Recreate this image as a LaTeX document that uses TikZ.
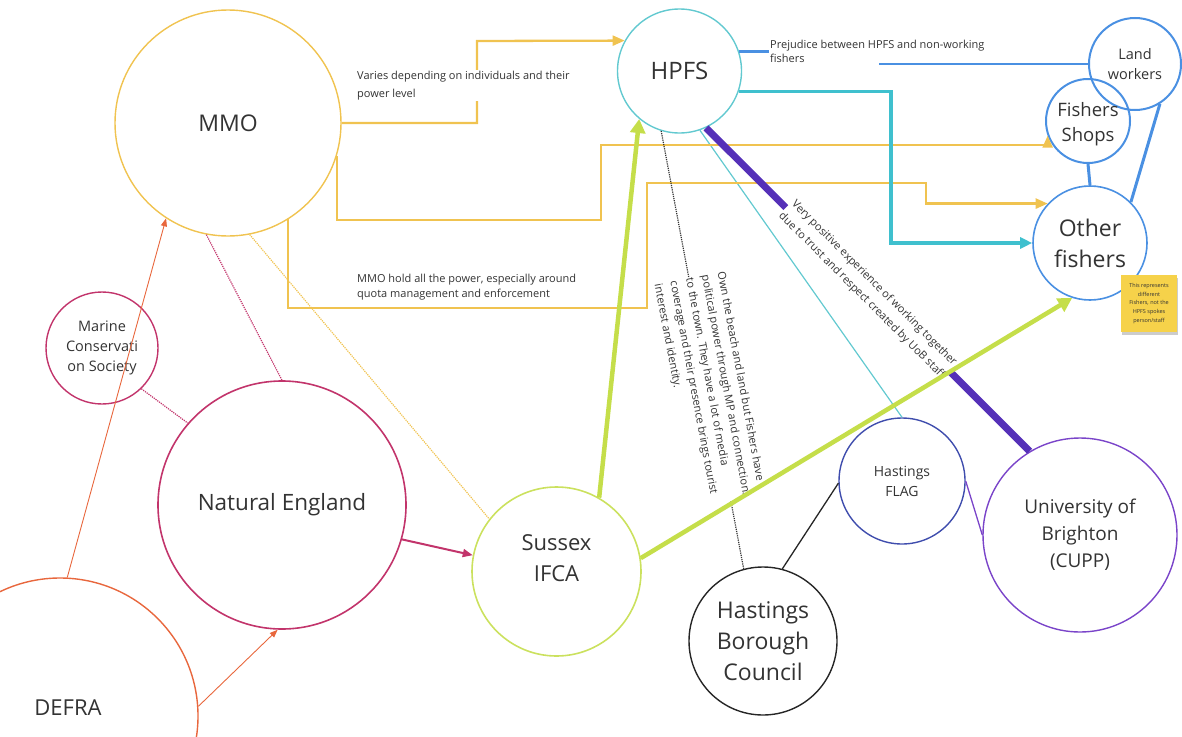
\documentclass[tikz,border=0pt]{standalone}
\usepackage{fontspec}
\setmainfont{Open Sans}
\usetikzlibrary{arrows.meta,shadows}
\definecolor{mmoc}{HTML}{F0C350}
\definecolor{hpfsc}{HTML}{62C9D0}
\definecolor{bluec}{HTML}{4A90E2}
\definecolor{crim}{HTML}{C2346B}
\definecolor{defc}{HTML}{E8673D}
\definecolor{limec}{HTML}{CBE15E}
\definecolor{greenar}{HTML}{C5DE4A}
\definecolor{flagc}{HTML}{3F4DAD}
\definecolor{uobc}{HTML}{7A44C9}
\definecolor{purp}{HTML}{5530B8}
\definecolor{tealc}{HTML}{3FC0CE}
\definecolor{txt}{HTML}{333333}
\definecolor{notec}{HTML}{F6D24A}
\begin{document}
\begin{tikzpicture}[x=1pt,y=-1pt,
 ent/.style={circle,draw,inner sep=0pt,align=center,text=txt,line width=1.4pt},
 lab/.style={text=txt,font=\fontsize{11}{15}\selectfont,inner sep=1pt,align=left},
 yline/.style={draw=mmoc,line width=2.3pt,-{Triangle[length=12pt,width=10pt]}},
 gline/.style={draw=greenar,line width=4.5pt,-{Triangle[length=14pt,width=15pt]}},
 tline/.style={draw=tealc,line width=3.5pt,-{Triangle[length=12pt,width=11pt]}},
 bline/.style={draw=bluec,line width=3pt},
 dots/.style={densely dotted,line width=1.2pt},
 oline/.style={draw=defc,line width=0.9pt,-{Triangle[length=8pt,width=6pt]}},
]
\useasboundingbox (0,0) rectangle (1182,736);
\clip (0,0) rectangle (1182,736);

% entities
\node[ent,draw=mmoc,minimum size=226pt,font=\fontsize{23}{28}\selectfont] (mmo) at (228,123) {MMO};
\node[ent,draw=hpfsc,minimum size=124pt,font=\fontsize{24}{28}\selectfont] (hpfs) at (679.5,71) {HPFS};
\node[ent,draw=bluec,line width=2pt,minimum size=92pt,font=\fontsize{14.5}{20}\selectfont] (lw) at (1135,64) {Land\\workers};
\node[ent,draw=bluec,line width=2pt,minimum size=84pt,
  label={[text=txt,align=center,font=\fontsize{18.5}{25}\selectfont,yshift=-3pt]center:Fishers\\Shops}] (fs) at (1088,121) {};
\node[ent,draw=bluec,line width=1.6pt,minimum size=114pt,font=\fontsize{23}{31}\selectfont] (of) at (1090,243) {Other\\fishers};
\node[ent,draw=crim,minimum size=112pt,font=\fontsize{14.5}{20}\selectfont] (mcs) at (102,348) {Marine\\Conservati\\on Society};
\node[ent,draw=crim,line width=1.6pt,minimum size=248pt,font=\fontsize{22.5}{28}\selectfont] (ne) at (282,505) {Natural England};
\node[ent,draw=defc,minimum size=276pt,
  label={[text=txt,font=\fontsize{22}{26}\selectfont,xshift=8pt,yshift=8pt]center:DEFRA}] (defra) at (60,716) {};
\node[ent,draw=limec,line width=1.6pt,minimum size=169pt,
  label={[text=txt,align=center,font=\fontsize{22}{31}\selectfont,yshift=13pt]center:Sussex\\IFCA}] (ifca) at (556.5,571.5) {};
\node[ent,draw=black!85,minimum size=148pt,font=\fontsize{23}{31}\selectfont] (hbc) at (763,641) {Hastings\\Borough\\Council};
\node[ent,draw=flagc,minimum size=126pt,font=\fontsize{14}{20}\selectfont] (flag) at (902,481) {Hastings\\FLAG};
\node[ent,draw=uobc,minimum size=194pt,font=\fontsize{19}{27}\selectfont] (uob) at (1080,535) {University of\\Brighton\\(CUPP)};

% thin / dotted connectors
\draw[crim,dots] (mmo.-101) -- (ne.north);
\draw[mmoc,dots] (mmo.-79) -- (ifca.142);
\draw[crim,dots] (mcs.-46) -- (ne.139);
\draw[oline] (defra.87) -- (mmo.-123);
\draw[oline] (defra.4) -- (ne.-92);
\draw[crim,line width=2pt,-{Triangle[length=10pt,width=8pt]}] (ne.-16) -- (ifca.169);
\draw[hpfsc,line width=1.2pt] (hpfs.-71) -- (flag.north);
\draw[black!85,line width=1.3pt] (hbc.75) -- (flag.182);
\draw[uobc,line width=1.3pt] (flag.east) -- (uob.west);

% MMO connectors
\coordinate (b1) at (477,41);
\draw[yline] (mmo.east) -| (b1) -- (hpfs.151);
\node[lab,fill=white,anchor=north west,font=\fontsize{11}{18}\selectfont] (l1) at (356,70) {Varies depending on individuals and their\\power level};
\coordinate (b2) at (601,220);
\coordinate (b3) at (700,145);
\draw[yline] (mmo.-17) |- (b2) |- (b3) -| (fs.200);
\coordinate (b4) at (647,308);
\coordinate (b5) at (926,183);
\draw[yline] (mmo.-58) |- (b4) |- (b5) |- (of.137);
\node[lab,anchor=north west] (l2) at (356,273) {MMO hold all the power, especially around\\quota management and enforcement};

% HPFS connectors
\coordinate (b6) at (891,243);
\draw[tline] (hpfs.-19) -| (b6) -- (of.west);
\coordinate (b7) at (880,58);
\draw[bline,line width=2.5pt] (hpfs.18) -| (b7) |- (lw.west);
\node[lab,fill=white,anchor=north west,font=\fontsize{11}{13.5}\selectfont] (l3) at (769,39) {Prejudice between HPFS and non-working\\fishers};
\draw[bline] (fs.south) -- (of.north);
\draw[bline] (lw.-58) -- (of.45);

\draw[purp,line width=7pt] (hpfs.-65) -- node[pos=0.5,sloped,lab,fill=white,align=center,font=\fontsize{11}{17.5}\selectfont] (l4) {Very positive experience of working together\\due to trust and respect created by UoB staff} (uob.121);

\draw[black!80,dots] (hpfs.-107) -- node[pos=0.59,sloped,lab,fill=white,font=\fontsize{11}{16}\selectfont] (l5) {Own the beach and land but Fishers have\\political power through MP and connections\\to the town. They have a lot of media\\coverage and their presence brings tourist\\interest and identity.} (hbc.105);

% green arrows
\draw[gline] (ifca.60) -- (hpfs.-130);
\draw[gline] (ifca.9) -- (of.-108);

% sticky note
\node[fill=notec,minimum width=56pt,minimum height=57pt,inner sep=1pt,align=center,text=txt,
  font=\fontsize{5.5}{8.6}\selectfont,
  drop shadow={shadow xshift=0.5pt,shadow yshift=-3pt,opacity=.4}] (note) at (1149,303.5)
  {This represents\\different\\Fishers, not the\\HPFS spokes\\person/staff};
\end{tikzpicture}
\end{document}
